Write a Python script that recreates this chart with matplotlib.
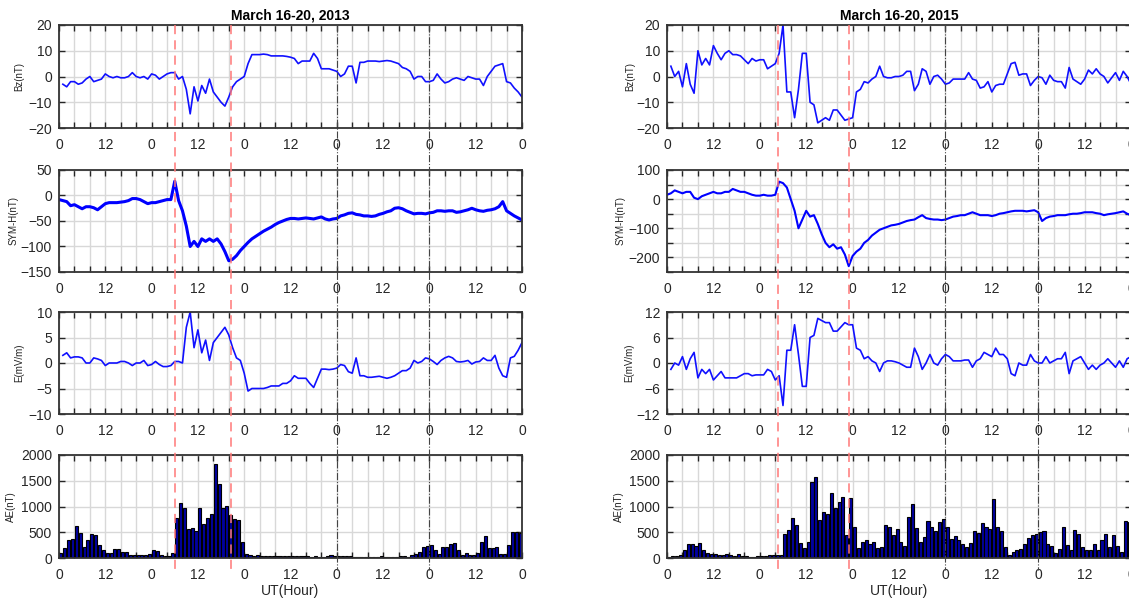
import numpy as np
import matplotlib; matplotlib.use("Agg")
import matplotlib.pyplot as plt
from matplotlib.lines import Line2D
import matplotlib.transforms as mtrans

plt.rcParams['font.family'] = ['Liberation Sans', 'DejaVu Sans']

# hourly IMF Bz / E (hours 1..120), SYM-H (hours 0..120), AE hourly bars (0..119)
bz13 = [-3, -4, -2, -2, -3, -2.5, -1, 0, -2, -1.5, -1, 1,
        0, -0.5, 0, -0.5, -0.5, 0, 1.5, 0, -0.5, 0, -1, 1,
        0.5, -1, 0, 1, 1.5, 1.5, -1, 0, -5, -14.5, -4, -9.5,
        -3.5, -6.5, -1, -6, -8, -10, -11.5, -8, -4, -2, -1, 0,
        5, 8.5, 8.5, 8.5, 8.7, 8.5, 8, 8, 8, 8, 7.8, 7.5,
        7, 5, 6, 6, 6, 9, 7, 3, 3, 3, 2.5, 2,
        0, 1, 4, 4, -2.5, 5.5, 5.5, 6, 6, 6, 5.8, 6,
        6.2, 6, 5.5, 5, 3.5, 3, 2, -1, 0, 0, -2, -2,
        -1.5, 1, -1, -2.5, -2, -1, -0.5, -1, -1.5, 0, -0.5, -1,
        -1, -3.5, 0, 2, 4, 4.5, 5, -2, -2.5, -4.5, -6, -8]
symh13 = [-8, -10, -12, -20, -18, -22, -26, -22, -22, -24, -28, -22,
          -16, -14, -14, -14, -13, -12, -10, -6, -6, -8, -12, -16,
          -14, -14, -12, -10, -8, -8, 28, -10, -30, -60, -100, -90,
          -100, -85, -90, -85, -90, -85, -95, -110, -128, -125, -118, -108,
          -100, -92, -85, -80, -75, -70, -66, -62, -57, -53, -50, -47,
          -45, -45, -46, -45, -44, -45, -46, -44, -42, -46, -48, -46,
          -45, -40, -38, -35, -34, -37, -38, -40, -40, -41, -40, -37,
          -35, -32, -30, -25, -24, -26, -30, -33, -36, -35, -35, -36,
          -34, -33, -30, -30, -31, -30, -30, -33, -32, -30, -28, -25,
          -28, -30, -31, -29, -28, -26, -22, -12, -30, -35, -40, -44,
          -48]
e13 = [1.5, 2, 1, 1.2, 1.2, 1, 0, 0, 1, 0.8, 0.5, -0.5,
       0, 0, 0, 0.3, 0.3, 0, -0.5, 0, 0, 0.5, -0.5, -0.3,
       0.3, -0.3, -0.7, -0.7, -0.5, 0.3, 0.3, 0, 7, 10, 3, 6.5,
       2, 4.5, 0.5, 4, 5, 6, 7, 5.5, 3, 1, 0.5, -2,
       -5.5, -5, -5, -5, -5, -4.8, -4.5, -4.5, -4.5, -4, -4, -3.5,
       -2.5, -3, -3, -3, -4, -4.8, -3, -1.2, -1.2, -1.3, -1.2, -1,
       -0.3, -0.5, -1.7, -2, 1, -2.5, -2.5, -2.8, -2.8, -2.7, -2.6, -2.8,
       -3, -2.8, -2.5, -2, -1.5, -1.5, -1, 0.5, 0, 0.3, 1, 0.8,
       0.3, -0.3, 0.5, 1, 1.3, 1, 0.3, 0.2, 0.3, 0.5, -0.2, 0.2,
       0.3, 1, 0.5, 0.5, 1.5, -1, -2.5, -2.8, 1, 1.3, 2.5, 4]
ae13 = [90, 200, 340, 370, 630, 480, 220, 350, 460, 440, 260, 160,
        100, 90, 170, 170, 120, 110, 60, 50, 60, 60, 60, 70,
        160, 140, 50, 40, 40, 90, 780, 1060, 970, 560, 590, 520,
        980, 660, 780, 850, 1820, 1440, 970, 1010, 830, 750, 730, 320,
        80, 60, 40, 50, 40, 30, 40, 30, 40, 30, 30, 30,
        30, 30, 30, 30, 30, 20, 30, 20, 20, 30, 50, 30,
        40, 40, 30, 30, 20, 20, 20, 20, 20, 20, 20, 30,
        20, 20, 20, 20, 30, 30, 20, 60, 80, 120, 210, 230,
        250, 160, 80, 210, 210, 280, 290, 150, 60, 100, 60, 60,
        100, 310, 430, 200, 200, 210, 80, 80, 260, 500, 500, 480]

bz15 = [4, 0, 2, -4, 5, -3, -6.5, 10, 4.5, 7, 4.5, 12,
        9, 6.5, 9, 10, 8.5, 8.5, 8, 6.5, 5, 7, 6, 6.5,
        6.5, 3, 4, 5, 9, 20, -6, -6, -16, -5, 9, 9,
        -10, -11, -18, -17, -16, -17, -13, -13, -15, -17, -16.5, -16,
        -6, -5, -2, -2.5, -1, 0, 4, 0, -0.5, -0.5, 0, 0,
        0.5, 2, 2, -5.5, -3, 3, 2, -3, 0, 0.5, -1, -3,
        -2.5, -1, -1, -1, -1, 1.5, -1, -1.5, -4.5, -4, -2, -6,
        -3.5, -3, -3, 1, 5, 5.5, 0.5, 1, 1, -3.5, -1.5, 0,
        -0.5, -3, 0.5, -1.5, -2, -2, -4.5, 3.5, -1, -2, -3, -1,
        2.5, 1, 3, 1, 0, -2.5, -0.5, 1.5, -1.5, 2, 0, -3]
symh15 = [15, 20, 30, 25, 20, 25, 25, 5, 0, 10, 15, 20,
          25, 20, 20, 25, 25, 35, 30, 25, 25, 20, 15, 12,
          12, 15, 12, 12, 15, 60, 55, 40, 0, -40, -100, -70,
          -40, -60, -55, -85, -120, -150, -165, -155, -170, -165, -190, -230,
          -195, -180, -170, -150, -140, -125, -115, -105, -100, -95, -90, -88,
          -85, -80, -75, -72, -70, -62, -55, -65, -68, -70, -70, -72,
          -70, -65, -60, -58, -55, -55, -50, -45, -50, -55, -55, -55,
          -58, -55, -50, -48, -45, -42, -40, -40, -40, -42, -40, -38,
          -45, -75, -65, -60, -58, -55, -55, -55, -52, -50, -50, -48,
          -45, -45, -45, -48, -50, -55, -52, -50, -48, -45, -42, -50,
          -55]
e15 = [-1.5, 0, -0.5, 1.5, -1.5, 1, 2.5, -3.5, -1.5, -2.5, -1.5, -4,
       -3, -2, -3.5, -3.5, -3.5, -3.5, -3, -2.5, -2.5, -3, -2.8, -2.8,
       -2.8, -1.5, -2, -4, -3, -10, 3, 3, 9, 2, -5.5, -5.5,
       6, 6.5, 10.5, 10, 9.5, 9.5, 7.5, 7.5, 8.5, 9.5, 9, 9,
       3.5, 3, 1, 1.5, 0.5, 0, -2, 0, 0.5, 0.5, 0.3, 0,
       -0.5, -1, -1, 3.5, 1.5, -1.5, 0, 2, 0, -0.5, 1, 2,
       1.5, 0.5, 0.5, 0.5, 0.7, 0.7, -1, 0.5, 1, 2.5, 2, 1.5,
       3.5, 2, 2, 1, -2.5, -3, 0, -0.5, -0.5, 2, 0.5, 0,
       0, 1.5, 0, 0.5, 1, 1, 2.5, -2.5, 0.5, 1, 1.5, 0,
       -1.5, -0.5, -1.5, -0.5, 0, 1, 0, -1, 0.5, -1, 1, 1.5]
ae15 = [20, 30, 40, 60, 150, 280, 270, 240, 290, 160, 100, 80,
        70, 60, 60, 70, 50, 40, 70, 30, 30, 20, 20, 30,
        30, 40, 60, 50, 60, 60, 470, 540, 780, 650, 300, 200,
        320, 1480, 1570, 730, 900, 850, 1260, 980, 1080, 1180, 450, 1160,
        600, 200, 320, 350, 280, 320, 200, 220, 650, 600, 450, 560,
        320, 230, 800, 1050, 580, 310, 400, 720, 600, 520, 700, 750,
        600, 370, 420, 350, 280, 220, 300, 530, 490, 670, 600, 560,
        1140, 600, 530, 220, 50, 120, 160, 170, 280, 390, 450, 460,
        500, 520, 270, 240, 100, 180, 600, 250, 150, 540, 470, 220,
        150, 160, 270, 160, 350, 470, 220, 450, 240, 120, 720, 700]

storm13 = [30, 44.5]      # red dashed: SSC and SYM-H minimum
storm15 = [28.8, 47]
days = [72, 96]           # black dash-dot day marks
titles = ["March 16-20, 2013", "March 16-20, 2015"]
ylabels = ["Bz(nT)", "SYM-H(nT)", "E(mV/m)", "AE(nT)"]

W, H = 1129, 603
fig = plt.figure(figsize=(W/100, H/100), dpi=100)
col_x = [(59, 522), (667, 1131)]
row_y = [(25, 128), (170, 272), (312, 414), (455, 558)]
# ylabel offsets (axes fraction) per column and row
lab_x = [[-0.075, -0.088, -0.075, -0.092], [-0.068, -0.09, -0.07, -0.092]]

h_imf = np.arange(1, 121)
h_sym = np.arange(0, 121)
h_ae = np.arange(120) + 0.5
tk = '#262626'

def style(ax, ylim, yt, ylab, yminor=None):
    ax.set_xlim(0, 120); ax.set_ylim(*ylim)
    ax.set_xticks(np.arange(0, 121, 12))
    ax.set_xticklabels([str(int(t % 24)) for t in np.arange(0, 121, 12)])
    ax.set_xticks(np.arange(0, 121, 4), minor=True)
    ax.set_yticks(yt)
    if yminor is not None:
        ax.set_yticks(yminor, minor=True)
    ax.grid(True, which='both', axis='x', color='#d8d8d8', lw=1.0)
    ax.grid(True, which='both' if yminor is not None else 'major', axis='y', color='#d8d8d8', lw=1.0)
    ax.set_axisbelow(True)
    ax.tick_params(which='both', direction='in', top=True, right=True, length=4,
                   width=1.0, labelsize=10, colors=tk, pad=5)
    ax.tick_params(axis='x', pad=7)
    for s in ax.spines.values():
        s.set_linewidth(1.3); s.set_color('#333333')
    ax.set_ylabel(ylab, fontsize=7, color='#222222')

series = [(bz13, symh13, e13, ae13, storm13), (bz15, symh15, e15, ae15, storm15)]
for c, (bz, sy, ee, ae, storm) in enumerate(series):
    x0, x1 = col_x[c]
    axs = []
    for r, (y0, y1) in enumerate(row_y):
        ax = fig.add_axes([x0/W, 1-y1/H, (x1-x0)/W, (y1-y0)/H])
        axs.append(ax)
    a1, a2, a3, a4 = axs
    a1.plot(h_imf, bz, color='#1010ff', lw=1.2)
    style(a1, (-20, 20), [-20, -10, 0, 10, 20], ylabels[0])
    a1.set_title(titles[c], fontsize=10, fontweight='bold', pad=4)
    if c == 0:
        a2.plot(h_sym, sy, color='#0000ff', lw=2.2)
        style(a2, (-150, 50), [-150, -100, -50, 0, 50], ylabels[1])
        a3.plot(h_imf, ee, color='#1010ff', lw=1.2)
        style(a3, (-10, 10), [-10, -5, 0, 5, 10], ylabels[2])
    else:
        a2.plot(h_sym, sy, color='#0000ff', lw=1.5)
        style(a2, (-250, 100), [-200, -100, 0, 100], ylabels[1],
              yminor=[-250, -150, -50, 50])
        a3.plot(h_imf, ee, color='#1010ff', lw=1.2)
        style(a3, (-12, 12), [-12, -6, 0, 6, 12], ylabels[2])
    a4.bar(h_ae, ae, width=0.8, color='#0000a0', edgecolor='black', lw=0.8)
    style(a4, (0, 2000), [0, 500, 1000, 1500, 2000], ylabels[3])
    a4.set_xlabel("UT(Hour)", fontsize=10, color=tk, labelpad=2)
    for r, ax in enumerate(axs):
        ax.yaxis.set_label_coords(lab_x[c][r], 0.5)
    # event lines spanning the whole column
    tr = mtrans.blended_transform_factory(a1.transData, fig.transFigure)
    for h in storm:
        fig.add_artist(Line2D([h, h], [1-25/H, 1-570/H], transform=tr,
                              color='#ff7878', lw=1.1, ls=(0, (6, 4))))
    for h in days:
        fig.add_artist(Line2D([h, h], [1-25/H, 1-570/H], transform=tr,
                              color='#444444', lw=0.8, ls='-.'))

fig.savefig("out.png", dpi=100)
